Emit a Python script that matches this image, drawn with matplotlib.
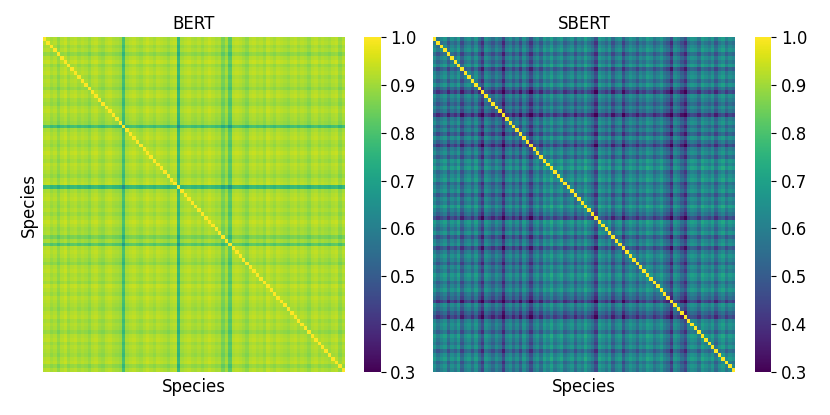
import numpy as np
import matplotlib
matplotlib.use("Agg")
import matplotlib.pyplot as plt
import seaborn as sns

# per-species dissimilarity offsets
bert_d = [
    0.04, 0.032, 0.055, 0.04, 0.075, 0.042, 0.028, 0.06, 0.04, 0.032,
    0.055, 0.04, 0.048, 0.07, 0.04, 0.032, 0.055, 0.065, 0.04, 0.032,
    0.048, 0.055, 0.065, 0.17, 0.055, 0.04, 0.032, 0.048, 0.06, 0.04,
    0.028, 0.04, 0.055, 0.032, 0.04, 0.048, 0.065, 0.04, 0.032, 0.19,
    0.055, 0.04, 0.032, 0.048, 0.055, 0.04, 0.06, 0.04, 0.028, 0.04,
    0.055, 0.048, 0.10, 0.055, 0.14, 0.04, 0.032, 0.04, 0.055, 0.075,
    0.04, 0.032, 0.048, 0.04, 0.06, 0.028, 0.04, 0.055, 0.032, 0.04,
    0.048, 0.06, 0.04, 0.032, 0.055, 0.04, 0.048, 0.07, 0.04, 0.032,
    0.055, 0.04, 0.048, 0.06, 0.04, 0.032, 0.07, 0.04,
]
sbert_d = [
    0.17, 0.25, 0.20, 0.16, 0.27, 0.18, 0.23, 0.15, 0.30, 0.20,
    0.17, 0.25, 0.16, 0.27, 0.36, 0.18, 0.22, 0.28, 0.20, 0.25,
    0.38, 0.22, 0.18, 0.27, 0.20, 0.30, 0.17, 0.25, 0.35, 0.22,
    0.18, 0.27, 0.15, 0.20, 0.13, 0.23, 0.18, 0.14, 0.25, 0.20,
    0.16, 0.27, 0.18, 0.22, 0.13, 0.20, 0.25, 0.35, 0.14, 0.18,
    0.23, 0.16, 0.29, 0.20, 0.17, 0.32, 0.22, 0.16, 0.20, 0.27,
    0.18, 0.22, 0.14, 0.17, 0.25, 0.20, 0.15, 0.23, 0.27, 0.37,
    0.18, 0.22, 0.29, 0.36, 0.20, 0.16, 0.18, 0.25, 0.14, 0.18,
    0.22, 0.16, 0.27, 0.18, 0.14, 0.23, 0.17, 0.20,
]
titles = ["BERT", "SBERT"]
cbar_ticks = [0.3, 0.4, 0.5, 0.6, 0.7, 0.8, 0.9, 1.0]


def similarity(d):
    d = np.array(d)
    m = 1.0 - np.add.outer(d, d)
    np.fill_diagonal(m, 1.0)
    return m


plt.rcParams["font.size"] = 12
fig = plt.figure(figsize=(8.3, 4.15), dpi=100)

ax_pos = [[0.0518, 0.1036, 0.3639, 0.8072], [0.5217, 0.1036, 0.3639, 0.8072]]
cb_pos = [[0.4386, 0.1036, 0.0199, 0.8072], [0.9096, 0.1036, 0.0199, 0.8072]]

for k, d in enumerate([bert_d, sbert_d]):
    ax = fig.add_axes(ax_pos[k])
    cax = fig.add_axes(cb_pos[k])
    sns.heatmap(similarity(d), ax=ax, cbar_ax=cax, cmap="viridis",
                vmin=0.3, vmax=1.0, xticklabels=False, yticklabels=False,
                cbar_kws={"ticks": cbar_ticks})
    ax.set_title(titles[k], fontsize=12, pad=6)
    ax.set_xlabel("Species", fontsize=12)
    if k == 0:
        ax.set_ylabel("Species", fontsize=12)
    cax.tick_params(labelsize=12)

fig.savefig("out.png", dpi=100)
